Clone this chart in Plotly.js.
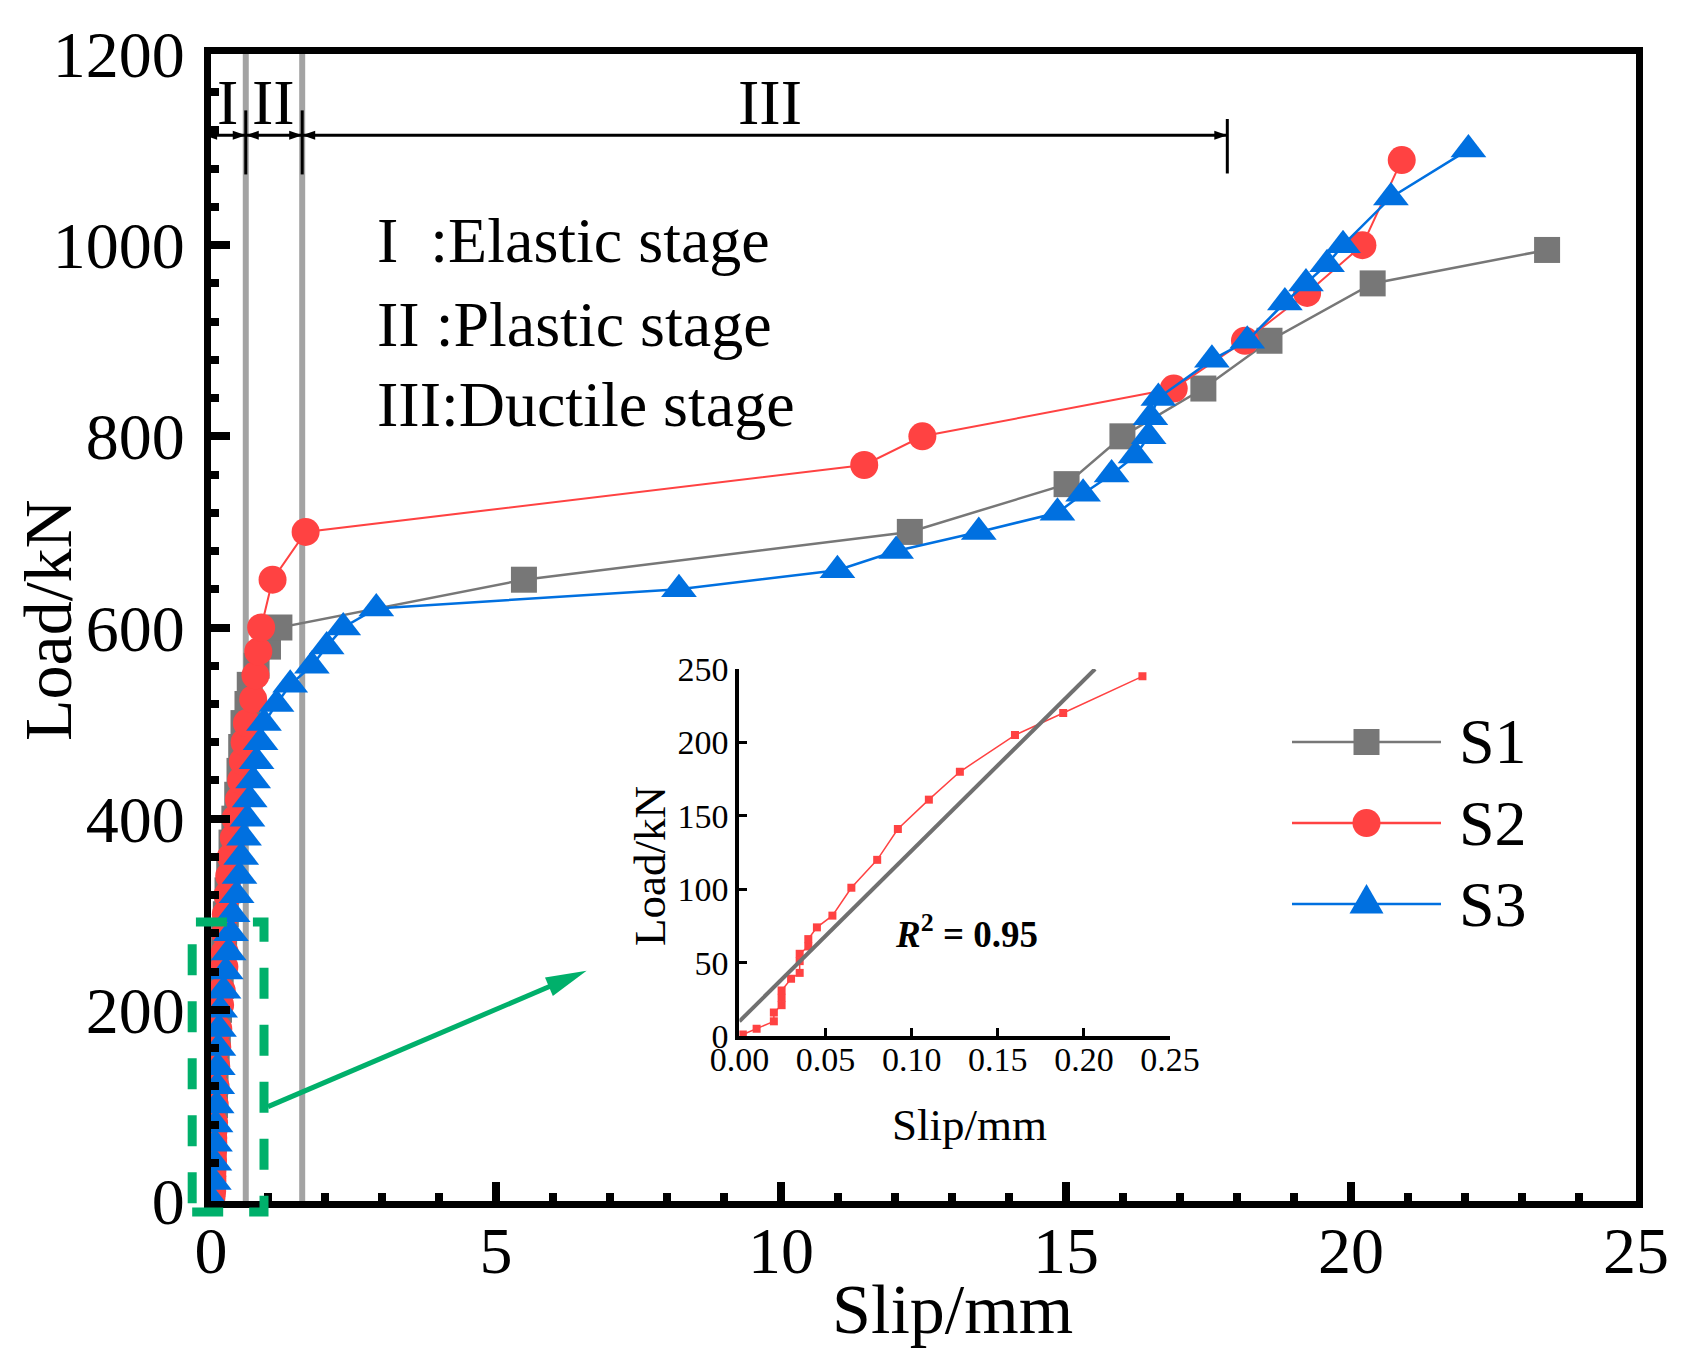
<!DOCTYPE html>
<html>
<head>
<meta charset="utf-8">
<script src="https://cdn.plot.ly/plotly-3.0.1.min.js"></script>
<style>html,body{margin:0;padding:0;background:#fff;}</style>
</head>
<body>
<div id="chart" style="width:1690px;height:1354px;"></div>
<script>
// ---------------- data ----------------
const seriesNames = ['S1', 'S2', 'S3'];

const s1Slip = [0.01, 0.03, 0.04, 0.05, 0.07, 0.08, 0.10, 0.12, 0.14, 0.17, 0.20, 0.23, 0.26, 0.29, 0.32, 0.36, 0.41, 0.46, 0.50, 0.53, 0.57,
                0.64, 0.68, 0.80, 1.00, 1.20, 5.49, 12.26, 15.01, 15.99, 17.41, 18.57, 20.38, 23.44];
const s1Load = [0, 25, 50, 75, 100, 125, 150, 175, 200, 225, 250, 275, 300, 325, 350, 375, 400, 425, 450, 475, 500,
                520, 540, 560, 580, 600, 650, 700, 750, 800, 850, 900, 960, 995];

// S2 initial (elastic) part, also shown in the inset
const s2LowSlip = [0.002, 0.010, 0.020, 0.020, 0.0245, 0.0245, 0.0245, 0.030, 0.035, 0.035, 0.035, 0.040, 0.040, 0.045, 0.054,
                   0.065, 0.080, 0.092, 0.110, 0.128, 0.160, 0.188, 0.234];
const s2LowLoad = [1, 5, 10, 16, 21, 26, 31, 39, 43, 51, 56, 61, 66, 74, 82,
                   101, 120, 141, 161, 180, 205, 220, 245];
// S2 remaining part
const s2HighSlip = [0.24, 0.25, 0.26, 0.29, 0.32, 0.35, 0.40, 0.43, 0.49, 0.53, 0.56, 0.59, 0.63, 0.74, 0.78, 0.83, 0.88,
                    1.08, 1.66, 11.46, 12.48, 16.89, 18.14, 19.23, 20.20, 20.89];
const s2HighLoad = [260, 280, 300, 320, 340, 360, 380, 400, 420, 440, 460, 480, 500, 525, 550, 575, 600,
                    650, 700, 770, 800, 850, 900, 950, 1000, 1089];

const s3Slip = [0.03, 0.05, 0.06, 0.07, 0.08, 0.10, 0.11, 0.12, 0.13, 0.14, 0.16, 0.22, 0.26, 0.31, 0.35, 0.38, 0.45, 0.50, 0.53, 0.58,
                0.64, 0.68, 0.74, 0.80, 0.87, 0.93, 1.15, 1.39, 1.77, 2.03, 2.32, 2.90,
                8.21, 10.99, 12.02, 13.47, 14.85, 15.30, 15.80, 16.22, 16.45, 16.48, 16.62, 17.56, 18.18, 18.84, 19.21, 19.58, 19.86, 20.70, 22.06];
const s3Load = [0, 20, 40, 60, 80, 100, 120, 140, 160, 180, 200, 220, 240, 260, 280, 300, 320, 340, 360, 380,
                400, 420, 440, 460, 480, 500, 520, 540, 560, 580, 600, 620,
                640, 660, 680, 700, 720, 740, 760, 780, 800, 820, 840, 880, 900, 940, 960, 980, 1000, 1050, 1100];

// linear fit shown in the inset (end points)
const fitSlip = [0, 0.2065];
const fitLoad = [10, 250];
const fitLabel = '<b><i>R</i><sup>2</sup> = 0.95</b>';

// stage boundaries and labels
const stageBounds = [0.61, 1.60, 17.83];
const stageNames = ['I', 'II', 'III'];
const stageLabelX = [0.29, 1.10, 9.80];
const stageTexts = ['I\u00a0\u00a0:Elastic stage', 'II\u00a0:Plastic stage', 'III:Ductile stage'];

const xTitle = 'Slip/mm', yTitle = 'Load/kN';

// ---------------- geometry helpers ----------------
const W = 1690, H = 1354;
const M = {l: 211, r: 54, t: 54, b: 153};
const PW = W - M.l - M.r, PH = H - M.t - M.b;
const xRange = [0, 25], yRange = [0, 1200];
const FONT = 'Liberation Serif, Times New Roman, serif';
const C1 = '#777777', C2 = '#ff4242', C3 = '#0070e0', GREEN = '#00b06b';

function dx(x) { return M.l + (x - xRange[0]) / (xRange[1] - xRange[0]) * PW; }
function dy(y) { return M.t + (1 - (y - yRange[0]) / (yRange[1] - yRange[0])) * PH; }
function px2p(px) { return (px - M.l) / PW; }
function py2p(py) { return 1 - (py - M.t) / PH; }
function polyPath(pts) {
  return 'M' + pts.map(p => px2p(p[0]).toFixed(5) + ',' + py2p(p[1]).toFixed(5)).join(' L') + ' Z';
}
function arrowHead(tip, from, len, hw) {
  const vx = tip[0] - from[0], vy = tip[1] - from[1];
  const n = Math.hypot(vx, vy), ux = vx / n, uy = vy / n;
  const bx = tip[0] - ux * len, by = tip[1] - uy * len;
  return {type: 'path', xref: 'paper', yref: 'paper', fillcolor: 'black', line: {width: 0},
          path: polyPath([tip, [bx - uy * hw, by + ux * hw], [bx + uy * hw, by - ux * hw]])};
}

// ---------------- traces ----------------
const s2Slip = s2LowSlip.concat(s2HighSlip);
const s2Load = s2LowLoad.concat(s2HighLoad);

const traces = [
  {x: s1Slip, y: s1Load, name: seriesNames[0], type: 'scatter', mode: 'lines+markers',
   line: {color: C1, width: 2.5}, marker: {symbol: 'square', size: 26, color: C1}, showlegend: false},
  {x: s2Slip, y: s2Load, name: seriesNames[1], type: 'scatter', mode: 'lines+markers',
   line: {color: C2, width: 2}, marker: {symbol: 'circle', size: 28, color: C2}, showlegend: false},
  {x: s3Slip, y: s3Load, name: seriesNames[2], type: 'scatter', mode: 'lines+markers',
   line: {color: C3, width: 2.5}, marker: {symbol: 'triangle-up', size: 31, color: C3}, showlegend: false},
  // inset
  {x: s2LowSlip, y: s2LowLoad, xaxis: 'x2', yaxis: 'y2', type: 'scatter', mode: 'lines+markers',
   line: {color: C2, width: 1.5}, marker: {symbol: 'square', size: 8, color: C2}, showlegend: false},
  {x: fitSlip, y: fitLoad, xaxis: 'x2', yaxis: 'y2', type: 'scatter', mode: 'lines',
   line: {color: '#707070', width: 4}, showlegend: false}
];

// ---------------- shapes ----------------
const shapes = [];
// gray stage boundaries
[stageBounds[0], stageBounds[1]].forEach(b => shapes.push({
  type: 'line', xref: 'x', yref: 'y', x0: b, x1: b, y0: yRange[0], y1: yRange[1],
  line: {color: '#a3a3a3', width: 6}, layer: 'below'}));
// dimension line with arrows
const dimY = 1115;
const segs = [[-0.12, stageBounds[0]], [stageBounds[0], stageBounds[1]], [stageBounds[1], stageBounds[2]]];
segs.forEach(s => {
  const a = [dx(s[0]), dy(dimY)], b = [dx(s[1]), dy(dimY)];
  shapes.push({type: 'line', xref: 'paper', yref: 'paper', x0: px2p(a[0]), x1: px2p(b[0]), y0: py2p(a[1]), y1: py2p(b[1]),
               line: {color: 'black', width: 3}});
  shapes.push(arrowHead(a, b, 13, 4.5));
  shapes.push(arrowHead(b, a, 13, 4.5));
});
[[stageBounds[0], 1074, 1141], [stageBounds[1], 1074, 1141], [stageBounds[2], 1075, 1132]].forEach(t => shapes.push({
  type: 'line', xref: 'x', yref: 'y', x0: t[0], x1: t[0], y0: t[1], y1: t[2], line: {color: 'black', width: 3}}));

// green dashed box around the initial part + arrow to the inset
const box = {x0: -0.33, x1: 0.93, y0: -11.5, y1: 292};
shapes.push({type: 'rect', xref: 'paper', yref: 'paper',
  x0: px2p(dx(box.x0)), x1: px2p(dx(box.x1)), y0: py2p(dy(box.y0)), y1: py2p(dy(box.y1)),
  line: {color: GREEN, width: 9, dash: '31px,26px'}});
const gStart = [dx(1.0), dy(98.7)], gTip = [dx(6.59), dy(241)];
(function () {
  const vx = gTip[0] - gStart[0], vy = gTip[1] - gStart[1], n = Math.hypot(vx, vy);
  const end = [gTip[0] - vx / n * 34, gTip[1] - vy / n * 34];
  shapes.push({type: 'line', xref: 'paper', yref: 'paper', x0: px2p(gStart[0]), y0: py2p(gStart[1]),
               x1: px2p(end[0]), y1: py2p(end[1]), line: {color: GREEN, width: 5}});
  const h = arrowHead(gTip, gStart, 41, 10);
  h.fillcolor = GREEN;
  shapes.push(h);
})();

// custom legend
const legRows = [742, 823, 904];
const legLine = [1292, 1441], legMk = 1366.5, legText = 1457;
[C1, C2, C3].forEach((c, i) => shapes.push({type: 'line', xref: 'paper', yref: 'paper',
  x0: px2p(legLine[0]), x1: px2p(legLine[1]), y0: py2p(legRows[i]), y1: py2p(legRows[i]), line: {color: c, width: 2.5}}));
shapes.push({type: 'rect', xref: 'paper', yref: 'paper', fillcolor: C1, line: {width: 0},
  x0: px2p(legMk - 13), x1: px2p(legMk + 13), y0: py2p(legRows[0] + 13), y1: py2p(legRows[0] - 13)});
shapes.push({type: 'circle', xref: 'paper', yref: 'paper', fillcolor: C2, line: {width: 0},
  x0: px2p(legMk - 14), x1: px2p(legMk + 14), y0: py2p(legRows[1] + 14), y1: py2p(legRows[1] - 14)});
shapes.push({type: 'path', xref: 'paper', yref: 'paper', fillcolor: C3, line: {width: 0},
  path: polyPath([[legMk, legRows[2] - 20], [legMk - 17, legRows[2] + 9.6], [legMk + 17, legRows[2] + 9.6]])});

// ---------------- annotations ----------------
const ann = [];
function txt(text, px, py, size, opts) {
  return Object.assign({text: text, xref: 'paper', yref: 'paper', x: px2p(px), y: py2p(py), showarrow: false,
    xanchor: 'center', yanchor: 'middle', font: {family: FONT, size: size, color: 'black'}}, opts || {});
}
stageNames.forEach((n, i) => ann.push(txt(n, dx(stageLabelX[i]), dy(1149), 64)));
stageTexts.forEach((t, i) => ann.push(txt(t, 375, [241, 324, 404][i], 64, {xanchor: 'left'})));
ann.push(txt(xTitle, 952, 1309, 70));
ann.push(txt(yTitle, 48, 620, 68, {textangle: -90}));
seriesNames.forEach((n, i) => ann.push(txt(n, legText, legRows[i], 64, {xanchor: 'left'})));
// inset labels
ann.push(txt(xTitle, 969, 1125, 45));
ann.push(txt(yTitle, 650, 866, 45, {textangle: -90}));
ann.push(txt(fitLabel, 966, 931, 37));

// ---------------- layout ----------------
const axisCommon = {
  showgrid: false, zeroline: false, showline: true, linecolor: 'black', mirror: true, linewidth: 7,
  ticks: 'inside', ticklen: 19, tickwidth: 8, tickcolor: 'black',
  tickfont: {family: FONT, size: 66, color: 'black'}
};
const insetAxis = {
  showgrid: false, zeroline: false, showline: true, linecolor: 'black', linewidth: 4,
  ticks: 'inside', ticklen: 8, tickwidth: 3, tickcolor: 'black',
  tickfont: {family: FONT, size: 34, color: 'black'}
};
const layout = {
  width: W, height: H, margin: M,
  paper_bgcolor: 'white', plot_bgcolor: 'white', showlegend: false,
  xaxis: Object.assign({}, axisCommon, {range: xRange, dtick: 5, tick0: 0, ticklabelstandoff: -14,
    minor: {dtick: 1, ticks: 'inside', ticklen: 8, tickwidth: 8, tickcolor: 'black'}}),
  yaxis: Object.assign({}, axisCommon, {range: yRange, dtick: 200, tick0: 0, ticklabelstandoff: 6,
    minor: {dtick: 40, ticks: 'inside', ticklen: 8, tickwidth: 8, tickcolor: 'black'}}),
  xaxis2: Object.assign({}, insetAxis, {domain: [px2p(739.4), px2p(1170)], anchor: 'y2', range: [0, 0.25],
    dtick: 0.05, tick0: 0, tickformat: '.2f', ticklabelstandoff: -10}),
  yaxis2: Object.assign({}, insetAxis, {domain: [py2p(1036), py2p(669)], anchor: 'x2', range: [0, 250],
    dtick: 50, tick0: 0}),
  shapes: shapes,
  annotations: ann
};

Plotly.newPlot('chart', traces, layout, {displayModeBar: false, staticPlot: true});
</script>
</body>
</html>
